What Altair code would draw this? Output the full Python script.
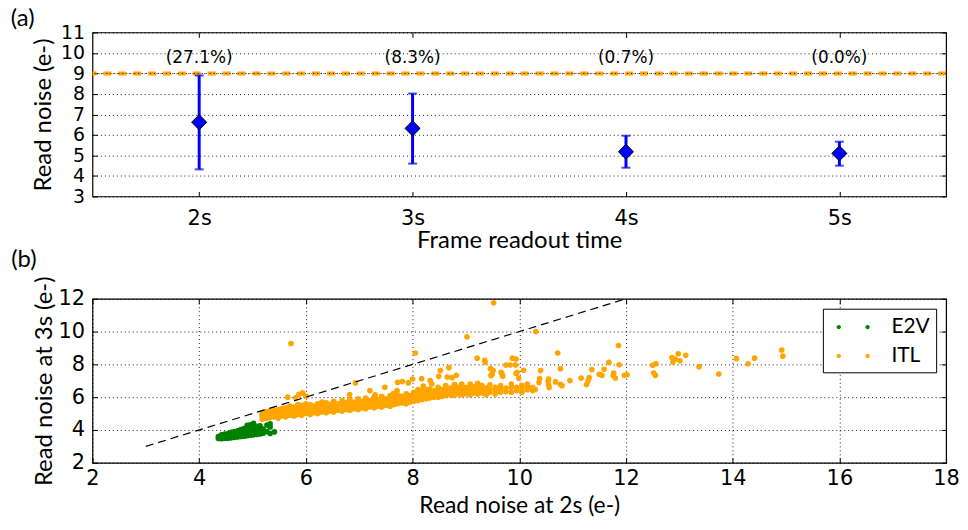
import altair as alt
import pandas as pd

# ---------------- Panel (a) data ----------------
readout_times = [2, 3, 4, 5]
noise_mean = [6.62, 6.32, 5.18, 5.10]
noise_low = [4.32, 4.60, 4.40, 4.50]
noise_high = [8.90, 8.02, 5.96, 5.67]
fraction_labels = ["(27.1%)", "(8.3%)", "(0.7%)", "(0.0%)"]
fraction_label_level = 9.75
noise_threshold = 9.0

# ---------------- Panel (b) data ----------------
e2v_points = [
    (4.36, 3.48), (4.36, 3.60),
    (4.42, 3.47), (4.42, 3.58), (4.42, 3.70),
    (4.48, 3.50), (4.48, 3.62), (4.48, 3.75),
    (4.54, 3.50), (4.54, 3.65), (4.54, 3.78),
    (4.60, 3.52), (4.60, 3.68), (4.60, 3.85),
    (4.66, 3.55), (4.66, 3.72), (4.66, 3.90),
    (4.72, 3.57), (4.72, 3.75), (4.72, 3.95),
    (4.78, 3.60), (4.78, 3.80), (4.78, 4.02),
    (4.84, 3.62), (4.84, 3.85), (4.84, 4.08),
    (4.90, 3.65), (4.90, 3.88), (4.90, 4.12), (4.90, 4.28),
    (4.96, 3.68), (4.96, 3.92), (4.96, 4.15), (4.96, 4.32),
    (5.02, 3.70), (5.02, 3.95), (5.02, 4.20), (5.02, 4.40),
    (5.08, 3.72), (5.08, 3.98), (5.08, 4.22),
    (5.14, 3.75), (5.14, 4.00), (5.14, 4.25),
    (5.20, 3.80), (5.20, 4.05),
    (5.27, 4.30), (5.27, 3.90),
    (5.33, 4.38), (5.33, 4.18), (5.33, 3.78),
    (5.41, 3.88),
]

itl_points = [
    # dense band
    (5.18, 4.65), (5.18, 4.85), (5.18, 5.00),
    (5.25, 4.70), (5.25, 4.90), (5.25, 5.10),
    (5.32, 4.75), (5.32, 4.95), (5.32, 5.15),
    (5.40, 4.80), (5.40, 5.00), (5.40, 5.20),
    (5.48, 4.72), (5.48, 4.90), (5.48, 5.10), (5.48, 5.25),
    (5.55, 4.85), (5.55, 5.05), (5.55, 5.30),
    (5.62, 4.80), (5.62, 4.95), (5.62, 5.15), (5.62, 5.35),
    (5.70, 4.90), (5.70, 5.10), (5.70, 5.30), (5.70, 5.45),
    (5.78, 4.85), (5.78, 5.00), (5.78, 5.20), (5.78, 5.40),
    (5.85, 4.95), (5.85, 5.15), (5.85, 5.35), (5.85, 5.55),
    (5.92, 4.90), (5.92, 5.10), (5.92, 5.30), (5.92, 5.50),
    (6.00, 5.00), (6.00, 5.20), (6.00, 5.40), (6.00, 5.60),
    (6.08, 4.95), (6.08, 5.15), (6.08, 5.35), (6.08, 5.55),
    (6.15, 5.05), (6.15, 5.25), (6.15, 5.45),
    (6.22, 5.00), (6.22, 5.20), (6.22, 5.40), (6.22, 5.60),
    (6.30, 5.10), (6.30, 5.30), (6.30, 5.50), (6.30, 5.70),
    (6.38, 5.05), (6.38, 5.25), (6.38, 5.45), (6.38, 5.65),
    (6.45, 5.15), (6.45, 5.35), (6.45, 5.55),
    (6.52, 5.10), (6.52, 5.30), (6.52, 5.50), (6.52, 5.75),
    (6.60, 5.20), (6.60, 5.40), (6.60, 5.60),
    (6.68, 5.15), (6.68, 5.35), (6.68, 5.55), (6.68, 5.80),
    (6.75, 5.25), (6.75, 5.45), (6.75, 5.65),
    (6.82, 5.20), (6.82, 5.40), (6.82, 5.60), (6.82, 5.85),
    (6.90, 5.30), (6.90, 5.50), (6.90, 5.70),
    (6.98, 5.25), (6.98, 5.45), (6.98, 5.65), (6.98, 5.90),
    (7.05, 5.35), (7.05, 5.55), (7.05, 5.75),
    (7.12, 5.30), (7.12, 5.50), (7.12, 5.70), (7.12, 5.95),
    (7.20, 5.40), (7.20, 5.60), (7.20, 5.80),
    (7.28, 5.35), (7.28, 5.55), (7.28, 5.75), (7.28, 6.00),
    (7.35, 5.45), (7.35, 5.65), (7.35, 5.85),
    (7.42, 5.40), (7.42, 5.60), (7.42, 5.80), (7.42, 6.05),
    (7.50, 5.50), (7.50, 5.70), (7.50, 5.90),
    (7.58, 5.45), (7.58, 5.65), (7.58, 5.85), (7.58, 6.10),
    (7.65, 5.55), (7.65, 5.75), (7.65, 5.95),
    (7.72, 5.60), (7.72, 5.80), (7.72, 6.00), (7.72, 6.15),
    (7.80, 5.65), (7.80, 5.85), (7.80, 6.05),
    (7.88, 5.60), (7.88, 5.80), (7.88, 6.00), (7.88, 6.20),
    (7.95, 5.70), (7.95, 5.90), (7.95, 6.10),
    (8.02, 5.75), (8.02, 5.95), (8.02, 6.15), (8.02, 6.30),
    (8.10, 5.80), (8.10, 6.00), (8.10, 6.20),
    (8.18, 5.85), (8.18, 6.05), (8.18, 6.25), (8.18, 6.40),
    (8.25, 5.90), (8.25, 6.10), (8.25, 6.30),
    (8.32, 5.95), (8.32, 6.15), (8.32, 6.35), (8.32, 6.50),
    (8.40, 6.00), (8.40, 6.20), (8.40, 6.40),
    (8.48, 6.00), (8.48, 6.20), (8.48, 6.40), (8.48, 6.60),
    (8.55, 6.05), (8.55, 6.25), (8.55, 6.45),
    (8.62, 6.10), (8.62, 6.30), (8.62, 6.50), (8.62, 6.70),
    (8.70, 6.15), (8.70, 6.35), (8.70, 6.55),
    (8.78, 6.10), (8.78, 6.30), (8.78, 6.50), (8.78, 6.75),
    (8.85, 6.20), (8.85, 6.40), (8.85, 6.60),
    (8.92, 6.15), (8.92, 6.35), (8.92, 6.55), (8.92, 6.80),
    (9.00, 6.20), (9.00, 6.40), (9.00, 6.60),
    (9.08, 6.15), (9.08, 6.35), (9.08, 6.55), (9.08, 6.80),
    (9.15, 6.25), (9.15, 6.45), (9.15, 6.65),
    (9.22, 6.20), (9.22, 6.40), (9.22, 6.60), (9.22, 6.85),
    (9.30, 6.25), (9.30, 6.45), (9.30, 6.70),
    (9.38, 6.15), (9.38, 6.35), (9.38, 6.55),
    (9.45, 6.30), (9.45, 6.50), (9.45, 6.75),
    (9.55, 6.20), (9.55, 6.45), (9.55, 6.60),
    (9.65, 6.30), (9.65, 6.50), (9.65, 6.70),
    (9.75, 6.35), (9.75, 6.55),
    (9.85, 6.30), (9.85, 6.60), (9.85, 6.80),
    (9.95, 6.40), (9.95, 6.60),
    (10.05, 6.30), (10.05, 6.50), (10.05, 6.70),
    (10.15, 6.45), (10.15, 6.65),
    (10.25, 6.40), (10.25, 6.60),
    # scattered points
    (5.72, 9.27), (5.66, 6.00), (5.87, 6.17), (5.94, 6.26), (6.00, 6.06),
    (5.81, 5.96), (6.82, 6.16), (6.93, 6.87), (7.20, 6.40), (7.30, 6.14),
    (7.48, 6.60), (7.64, 6.22), (7.71, 6.40), (7.72, 6.90), (7.81, 6.95),
    (7.92, 6.87), (8.00, 7.11), (8.05, 8.69), (8.10, 6.47), (8.17, 7.13),
    (8.20, 6.67), (8.26, 6.47), (8.33, 7.01), (8.36, 6.80), (8.42, 6.36),
    (8.49, 7.27), (8.52, 7.62), (8.54, 6.47), (8.60, 6.16), (8.65, 7.23),
    (8.68, 7.80), (8.74, 7.19), (8.79, 6.77), (8.82, 7.33), (8.82, 6.26),
    (9.02, 9.68), (9.21, 8.38), (9.35, 8.24), (9.36, 8.14), (9.46, 7.74),
    (9.47, 7.31), (9.49, 7.40), (9.51, 7.62), (9.52, 11.76), (9.66, 7.52),
    (9.68, 7.40), (9.69, 7.27), (9.75, 7.96), (9.83, 7.96), (9.87, 8.38),
    (9.93, 7.96), (9.94, 8.32), (9.94, 7.44), (9.96, 7.50), (9.99, 7.15),
    (10.08, 7.64), (10.15, 6.80), (10.30, 6.47), (10.31, 10.00), (10.37, 6.90),
    (10.38, 7.13), (10.40, 7.62), (10.54, 6.97), (10.55, 7.10), (10.55, 6.76),
    (10.56, 6.59), (10.68, 6.93), (10.72, 8.69), (10.77, 7.74), (10.77, 6.79),
    (10.80, 6.70), (10.95, 7.01), (11.16, 7.17), (11.26, 6.77), (11.29, 6.98),
    (11.31, 7.19), (11.36, 7.68), (11.50, 7.40), (11.55, 7.34), (11.59, 7.70),
    (11.68, 8.12), (11.76, 7.32), (11.77, 7.47), (11.80, 7.17), (11.86, 9.15),
    (11.87, 7.98), (11.97, 7.33), (12.02, 7.37), (12.50, 7.94), (12.52, 7.47),
    (12.55, 7.33), (12.56, 8.04), (12.86, 8.42), (12.88, 8.14), (12.92, 8.32),
    (12.98, 8.65), (13.01, 8.22), (13.12, 8.56), (13.37, 7.86), (13.74, 7.41),
    (14.07, 8.35), (14.29, 8.04), (14.41, 8.38), (14.92, 8.87), (14.94, 8.50),
]

unity_x = [3, 12]
unity_y = [3, 12]

sensor_names = ["E2V", "ITL"]
sensor_colors = ["#008000", "#FFA500"]

# ---------------- styling ----------------
TITLE_FONT = "Lato"
NUM_FONT = "DejaVu Sans"
TICK = 5


def label_axis(orient, values, title, label_size, label_pad, title_pad, grid,
               label_expr=None, title_size=24):
    kw = dict(
        orient=orient, values=values, title=title, grid=grid,
        gridColor="black", gridDash=[1, 3], gridWidth=1, gridOpacity=0.9,
        domain=False, ticks=True, tickSize=TICK, offset=-TICK,
        tickColor="black", tickWidth=1,
        labelFont=NUM_FONT, labelFontSize=label_size, labelColor="black",
        labelPadding=label_pad, labelFlush=False, labelOverlap=False,
        titleFont=TITLE_FONT, titleFontSize=title_size, titleFontWeight="normal",
        titleColor="black", titlePadding=title_pad,
    )
    if label_expr is not None:
        kw["labelExpr"] = label_expr
    return alt.Axis(**kw)


def tick_axis(orient, values):
    return alt.Axis(
        orient=orient, values=values, title="", grid=False, domain=False,
        labels=False, ticks=True, tickSize=TICK, offset=-TICK,
        tickColor="black", tickWidth=1, labelPadding=0, titlePadding=0,
    )


# ---------------- panel (a) ----------------
df_a = pd.DataFrame({
    "t": readout_times,
    "mean": noise_mean,
    "low": noise_low,
    "high": noise_high,
    "lab": fraction_labels,
    "lab_y": [fraction_label_level] * len(readout_times),
})
df_thr = pd.DataFrame({"y": [noise_threshold]})

xs_a = alt.Scale(domain=[1.5, 5.5], nice=False, zero=False)
ys_a = alt.Scale(domain=[3, 11], nice=False, zero=False)
a_xvals = readout_times
a_yvals = list(range(3, 12))

base_a = alt.Chart(df_a)

thr_line = alt.Chart(df_thr).mark_rule(color="#FFA500", strokeWidth=4, strokeDash=[8, 7]).encode(
    y=alt.Y("y:Q", scale=ys_a, axis=None)
)
thr_dots = alt.Chart(df_thr).mark_rule(color="black", strokeWidth=1, strokeDash=[1, 3], opacity=0.9).encode(
    y=alt.Y("y:Q", scale=ys_a, axis=None)
)
err = base_a.mark_rule(color="#0000FF", strokeWidth=3).encode(
    x=alt.X("t:Q", scale=xs_a, axis=None),
    y=alt.Y("low:Q", scale=ys_a, axis=None),
    y2="high:Q",
)
cap_lo = base_a.mark_tick(orient="horizontal", color="#0000FF", size=9, thickness=2).encode(
    x=alt.X("t:Q", scale=xs_a, axis=None),
    y=alt.Y("low:Q", scale=ys_a, axis=None),
)
cap_hi = base_a.mark_tick(orient="horizontal", color="#0000FF", size=9, thickness=2).encode(
    x=alt.X("t:Q", scale=xs_a, axis=None),
    y=alt.Y("high:Q", scale=ys_a, axis=None),
)
diam = base_a.mark_point(shape="diamond", filled=True, size=230, fill="#0000FF",
                         stroke="black", strokeWidth=1, opacity=1).encode(
    x=alt.X("t:Q", scale=xs_a,
            axis=label_axis("bottom", a_xvals, "Frame readout time", 21, 11, 0, False,
                            label_expr="datum.value + 's'")),
    y=alt.Y("mean:Q", scale=ys_a,
            axis=label_axis("left", a_yvals, "Read noise (e-)", 19, 8, 5, True)),
)
txt = base_a.mark_text(font=NUM_FONT, fontSize=17, color="black", align="center", baseline="middle").encode(
    x=alt.X("t:Q", scale=xs_a, axis=None),
    y=alt.Y("lab_y:Q", scale=ys_a, axis=None),
    text="lab:N",
)
ticks_a = base_a.mark_point(opacity=0).encode(
    x=alt.X("t:Q", scale=xs_a, axis=tick_axis("top", a_xvals)),
    y=alt.Y("mean:Q", scale=ys_a, axis=tick_axis("right", a_yvals)),
)

panel_a = alt.layer(thr_line, thr_dots, err, cap_lo, cap_hi, diam, txt, ticks_a).resolve_axis(
    x="independent", y="independent"
).properties(
    width=859, height=165,
    title=alt.TitleParams("(a)", anchor="start", font=TITLE_FONT, fontSize=24,
                          fontWeight="normal", color="black", dx=-21, offset=-8),
)

# ---------------- panel (b) ----------------
rows = [{"x": x, "y": y, "sensor": "E2V"} for x, y in e2v_points]
rows += [{"x": x, "y": y, "sensor": "ITL"} for x, y in itl_points]
df_b = pd.DataFrame(rows)
df_unity = pd.DataFrame({"x": unity_x, "y": unity_y})

xs_b = alt.Scale(domain=[2, 18], nice=False, zero=False)
ys_b = alt.Scale(domain=[2, 12], nice=False, zero=False)
b_xvals = list(range(2, 19, 2))
b_yvals = list(range(2, 13, 2))

# two legend dots side by side (matplotlib numpoints=2 look)
legend_path = ("M-0.376,0a0.176,0.176 0 1,0 0.352,0a0.176,0.176 0 1,0 -0.352,0Z"
               "M1.944,0a0.176,0.176 0 1,0 0.352,0a0.176,0.176 0 1,0 -0.352,0Z")

unity = alt.Chart(df_unity).mark_line(color="black", strokeWidth=1.2, strokeDash=[8, 5]).encode(
    x=alt.X("x:Q", scale=xs_b, axis=None),
    y=alt.Y("y:Q", scale=ys_b, axis=None),
)
scatter = alt.Chart(df_b).mark_circle(size=32, opacity=1).encode(
    x=alt.X("x:Q", scale=xs_b,
            axis=label_axis("bottom", b_xvals, "Read noise at 2s (e-)", 21, 5, 6, True,
                            title_size=23)),
    y=alt.Y("y:Q", scale=ys_b,
            axis=label_axis("left", b_yvals, "Read noise at 3s (e-)", 21, 8, 2, True)),
    color=alt.Color("sensor:N", scale=alt.Scale(domain=sensor_names, range=sensor_colors),
                    legend=alt.Legend(
                        title=None, orient="top-right", offset=10,
                        strokeColor="black", fillColor="white", padding=6,
                        labelFont=TITLE_FONT, labelFontSize=21, labelColor="black",
                        symbolType=legend_path, symbolSize=625, symbolStrokeWidth=0,
                        labelOffset=38, rowPadding=6,
                    )),
)
ticks_b = alt.Chart(df_unity).mark_point(opacity=0).encode(
    x=alt.X("x:Q", scale=xs_b, axis=tick_axis("top", b_xvals)),
    y=alt.Y("y:Q", scale=ys_b, axis=tick_axis("right", b_yvals)),
)

panel_b = alt.layer(scatter, unity, ticks_b).resolve_axis(
    x="independent", y="independent"
).properties(
    width=859, height=165,
    title=alt.TitleParams("(b)", anchor="start", font=TITLE_FONT, fontSize=24,
                          fontWeight="normal", color="black", dx=-21, offset=4),
)

chart = alt.vconcat(panel_a, panel_b, spacing=103, bounds="flush").resolve_legend(
    color="independent"
).properties(
    padding={"left": 2, "top": -3, "right": 0, "bottom": 0},
    background="white",
).configure_view(stroke="black", strokeWidth=1.2, fill="white")

chart.save("out.html", embed_options={"renderer": "svg", "actions": False})
